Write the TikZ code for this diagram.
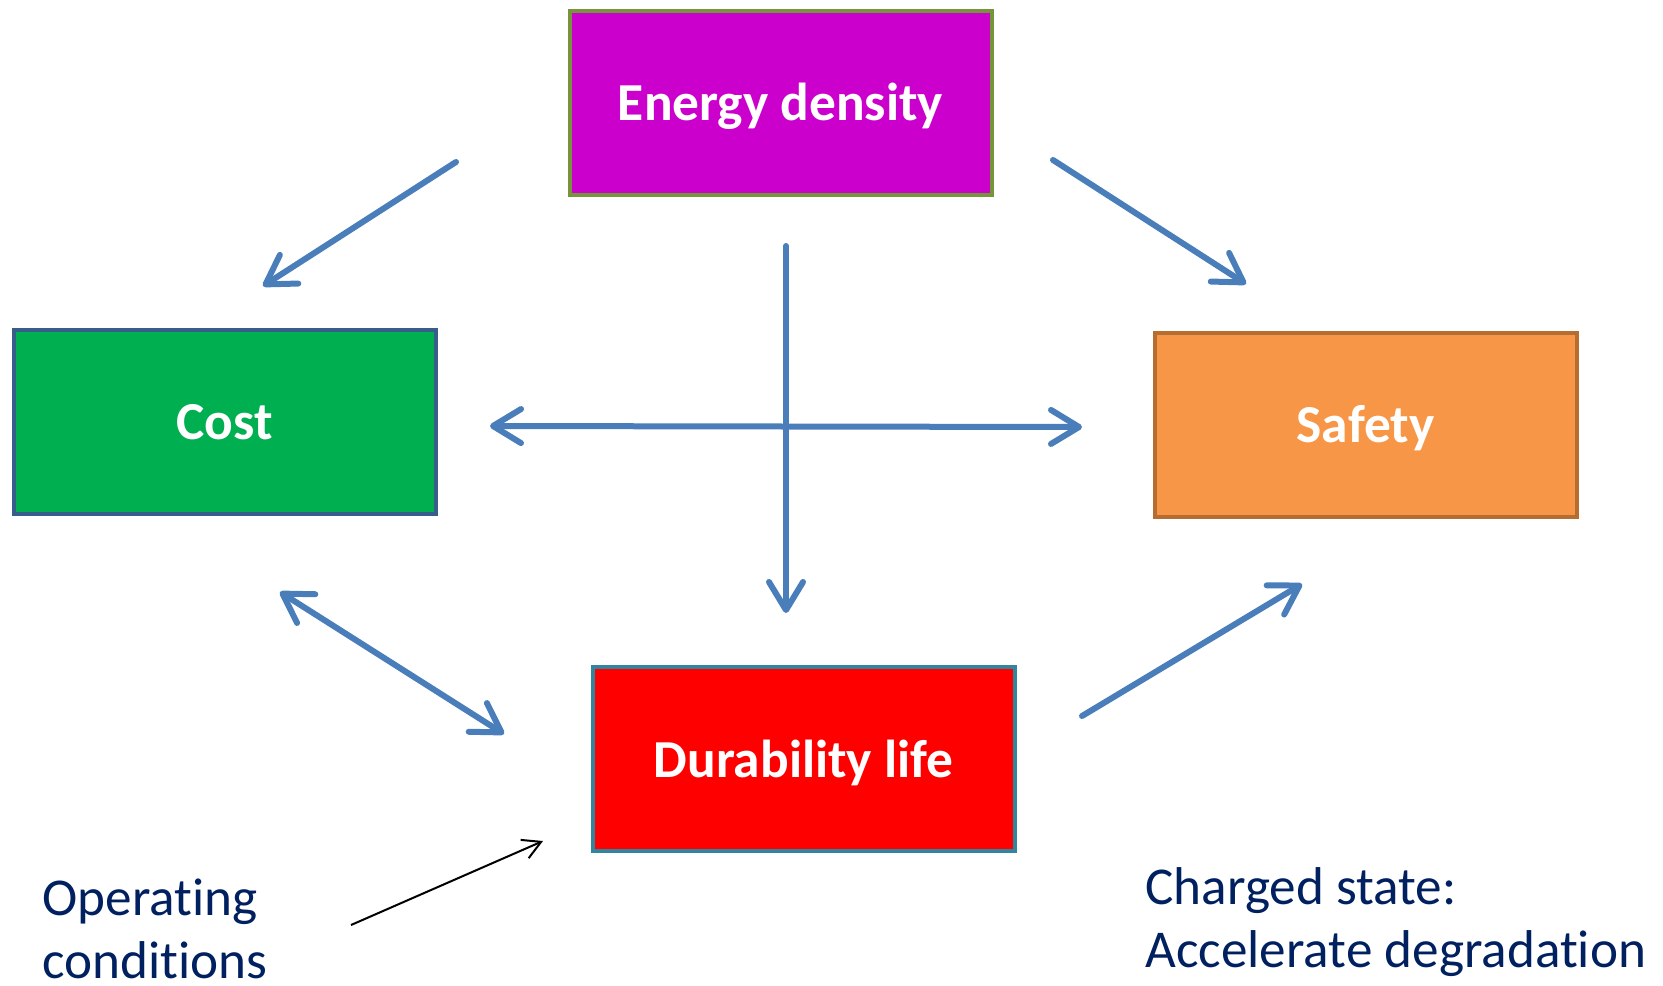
\documentclass[tikz,border=0pt]{standalone}
\usepackage{fontspec}
\setmainfont{Carlito}[Ligatures=NoCommon]
\usetikzlibrary{arrows.meta,positioning}
\definecolor{arrowblue}{HTML}{4A7EBB}
\definecolor{navytext}{HTML}{002060}

\begin{document}
\begin{tikzpicture}[x=0.5pt,y=-0.5pt]
% styles
\tikzset{boxstyle/.style={draw,line width=2pt,minimum width=211pt,minimum height=92pt,inner sep=0pt,text height=23pt,text depth=5pt,text=white,font=\fontsize{26.7}{32}\selectfont\bfseries}}
\tikzset{flowarrow/.style={draw=arrowblue,line width=3pt,line cap=round,-{Straight Barb[length=14pt,width=17pt,round]}}}
\tikzset{twoway/.style={flowarrow,{Straight Barb[length=14pt,width=17pt,round]}-{Straight Barb[length=14pt,width=17pt,round]}}}
\tikzset{notestyle/.style={text=navytext,align=left,font=\fontsize{26.6}{31.8}\selectfont,inner sep=0pt}}
\useasboundingbox (0,0) rectangle (1663,985);

% boxes
\node[boxstyle,fill={rgb,255:red,204;green,0;blue,204},draw={rgb,255:red,119;green,147;blue,60}] (energy) at (780.5,102.5) {Energy density};
\node[boxstyle,fill={rgb,255:red,0;green,176;blue,80},draw={rgb,255:red,56;green,93;blue,138}] (cost) at (224.5,421.5) {Cost};
\node[boxstyle,fill={rgb,255:red,247;green,150;blue,70},draw={rgb,255:red,182;green,109;blue,49}] (safety) at (1365.5,424.5) {Safety};
\node[boxstyle,fill=red,draw={rgb,255:red,49;green,133;blue,156}] (durable) at (803.5,759) {Durability life};

% arrow ends
\coordinate (e1) at (456,162);  \coordinate (c1) at (263,286);
\coordinate (e2) at (1053,160); \coordinate (s1) at (1246,284);
\coordinate (e3) at (786,246);  \coordinate (d1) at (786,613);
\coordinate (c2) at (490,426);  \coordinate (s2) at (1082,427);
\coordinate (c3) at (280,592);  \coordinate (d2) at (504,734);
\coordinate (d3) at (1082,716); \coordinate (s3) at (1302,584);
\coordinate (op) at (351,925);  \coordinate (d4) at (543,841);

% arrows
\draw[flowarrow] (e1) -- (c1);
\draw[flowarrow] (e2) -- (s1);
\draw[flowarrow] (e3) -- (d1);
\draw[twoway] (c2) -- (s2);
\draw[twoway] (c3) -- (d2);
\draw[flowarrow] (d3) -- (s3);
\draw[black,line width=1pt,-{Straight Barb[length=9pt,width=10pt]}] (op) -- (d4);

% notes
\node[notestyle,anchor=north west] (opcond) at (42,878) {Operating\\conditions};
\node[notestyle,anchor=north west] (charged) at (1145,867) {Charged state:\\Accelerate degradation};
\end{tikzpicture}
\end{document}
